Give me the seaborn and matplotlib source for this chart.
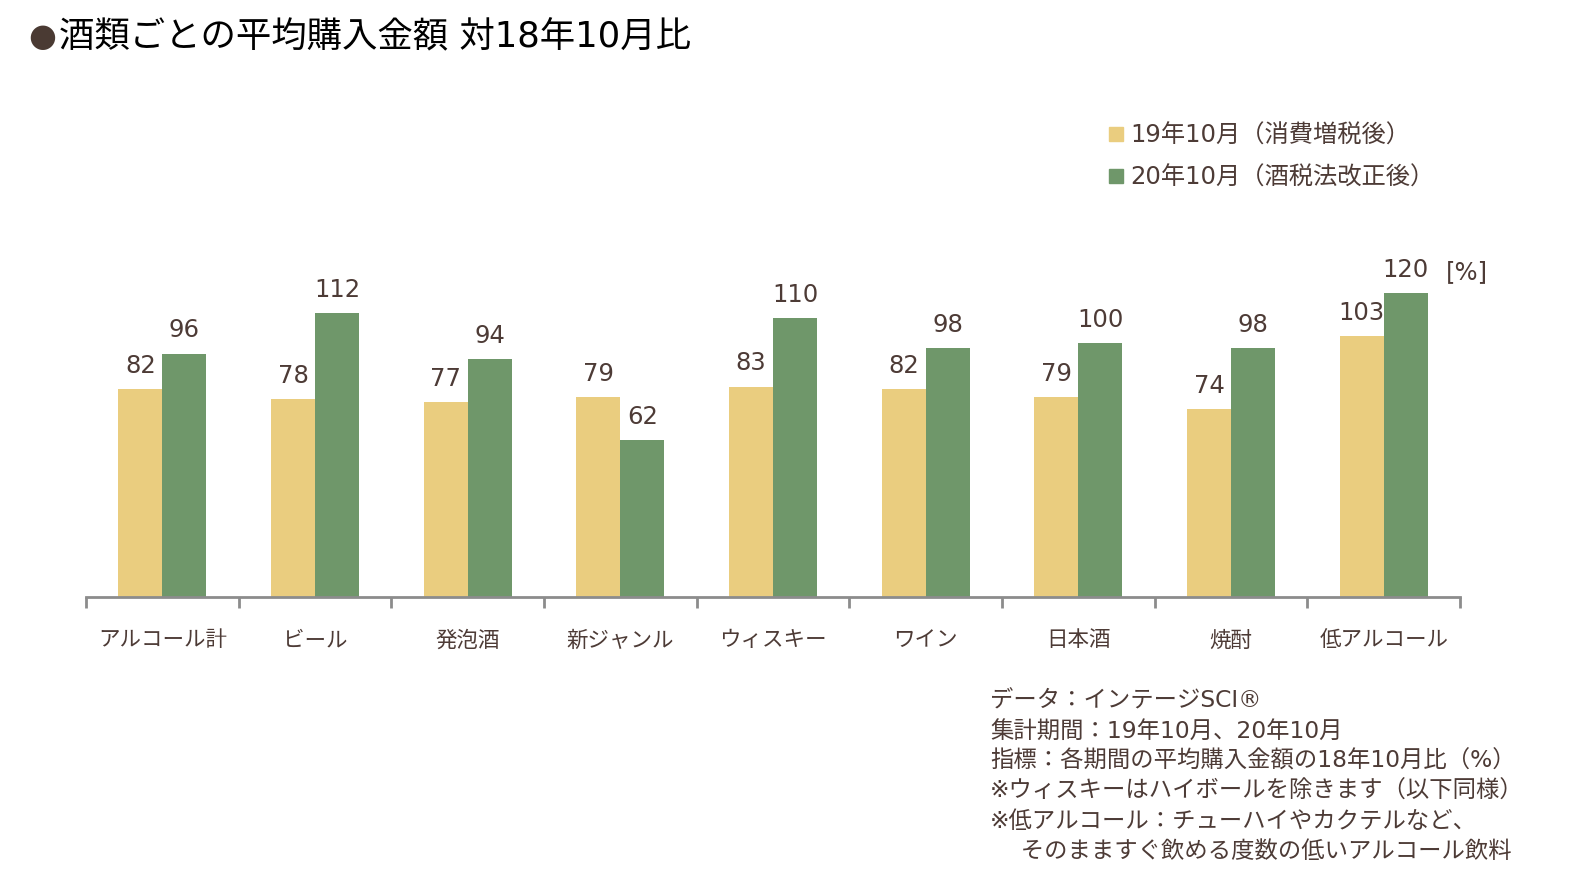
import matplotlib
matplotlib.use("Agg")
import matplotlib.pyplot as plt
import seaborn as sns
import pandas as pd
from matplotlib.lines import Line2D

categories = ["アルコール計", "ビール", "発泡酒", "新ジャンル", "ウィスキー", "ワイン", "日本酒", "焼酎", "低アルコール"]
series_names = ["19年10月（消費増税後）", "20年10月（酒税法改正後）"]
values_19 = [82, 78, 77, 79, 83, 82, 79, 74, 103]
values_20 = [96, 112, 94, 62, 110, 98, 100, 98, 120]
colors = ["#EACD7F", "#6F976A"]
text_color = "#4D3B36"

title = "酒類ごとの平均購入金額 対18年10月比"
notes = [
    "データ：インテージSCI®",
    "集計期間：19年10月、20年10月",
    "指標：各期間の平均購入金額の18年10月比（%）",
    "※ウィスキーはハイボールを除きます（以下同様）",
    "※低アルコール：チューハイやカクテルなど、",
    "　 そのまますぐ飲める度数の低いアルコール飲料",
]

sns.set_theme(style="white")
plt.rcParams['font.family'] = ['DejaVu Sans', 'Noto Sans CJK JP']

df = pd.DataFrame({
    "category": categories * 2,
    "series": [series_names[0]] * len(categories) + [series_names[1]] * len(categories),
    "value": values_19 + values_20,
})

W, H = 1577, 884
fig = plt.figure(figsize=(W / 100, H / 100), dpi=100)
ax = fig.add_axes([86 / W, (H - 597) / H, (1460 - 86) / W, 355 / H])

sns.barplot(data=df, x="category", y="value", hue="series", order=categories,
            hue_order=series_names, palette=colors, width=0.576, saturation=1,
            linewidth=0, ax=ax, legend=False)

for cont in ax.containers:
    ax.bar_label(cont, fontsize=17.5, color=text_color, padding=8)

ax.set_xlim(-0.5, len(categories) - 0.5)
ax.set_ylim(0, 140)
ax.set_xlabel("")
ax.set_ylabel("")
ax.set_yticks([])
ax.set_xticks(range(len(categories)))
ax.set_xticklabels(categories, fontsize=15.5, color=text_color)
ax.tick_params(axis="x", which="major", length=0, pad=24)
ax.set_xticks([i - 0.5 for i in range(len(categories) + 1)], minor=True)
ax.tick_params(axis="x", which="minor", bottom=True, length=8, width=2,
               color="#8C8C8C", direction="out")
for s in ["top", "right", "left"]:
    ax.spines[s].set_visible(False)
ax.spines["bottom"].set_color("#8C8C8C")
ax.spines["bottom"].set_linewidth(2)

# [%] unit label
fig.text(1446 / W, 1 - 272 / H, "[%]", fontsize=17.5, color=text_color, va="center", ha="left")

# Title
fig.text(28 / W, 1 - 38 / H, "●", fontsize=23, color="#4A3A33", va="center", ha="left")
fig.text(59 / W, 1 - 37 / H, title, fontsize=25.5, color="black", va="center", ha="left")

# Legend
handles = [Line2D([0], [0], marker="s", linestyle="none", markersize=10,
                  markerfacecolor=c, markeredgecolor=c) for c in colors]
leg = fig.legend(handles, series_names, loc="upper left", bbox_to_anchor=(1094 / W, 1 - 114 / H),
                 frameon=False, fontsize=17.5, handletextpad=0.1, labelspacing=0.75,
                 handlelength=1.0, borderaxespad=0)
for t in leg.get_texts():
    t.set_color(text_color)

# Notes
for i, line in enumerate(notes):
    fig.text(990 / W, 1 - (701 + 30 * i) / H, line, fontsize=16.8, color=text_color,
             va="center", ha="left")

fig.savefig("out.png", dpi=100, facecolor="white")
